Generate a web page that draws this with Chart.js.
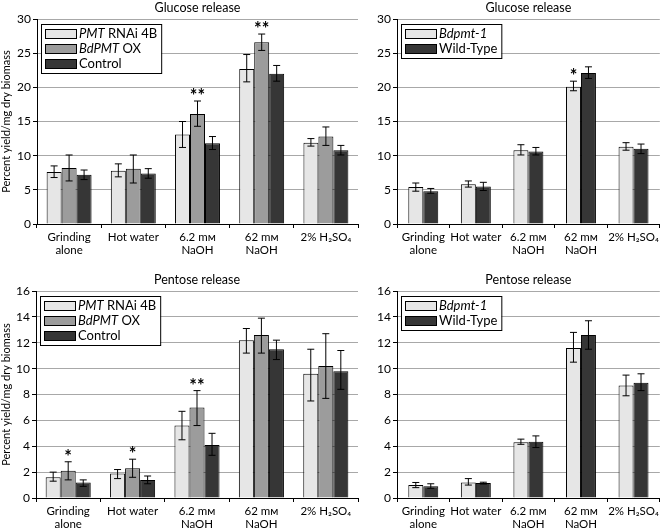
<!DOCTYPE html>
<html>
<head>
<meta charset="utf-8">
<script src="https://cdn.jsdelivr.net/npm/chart.js@4"></script>
<style>
body { margin: 0; background: #fff; }
canvas { position: absolute; }
</style>
</head>
<body>
<canvas id="glucoseA" width="362" height="265" style="left:0;top:0"></canvas>
<canvas id="glucoseB" width="299" height="265" style="left:362px;top:0"></canvas>
<canvas id="pentoseA" width="362" height="265" style="left:0;top:265px"></canvas>
<canvas id="pentoseB" width="299" height="265" style="left:362px;top:265px"></canvas>
<script>
// categorias comunes a los cuatro paneles
const categories = [['Grinding', 'alone'], 'Hot water', ['6.2 mᴍ', 'NaOH'], ['62 mᴍ', 'NaOH'], '2% H₂SO₄'];

// Glucosa - RNAi / OX / control
const glucosePmt = [7.6, 7.8, 13.1, 22.7, 11.9];
const glucosePmtLo = [6.8, 6.9, 11.2, 20.8, 11.4];
const glucosePmtHi = [8.5, 8.8, 15.0, 24.8, 12.5];
const glucoseOx = [8.2, 8.1, 16.1, 26.6, 12.8];
const glucoseOxLo = [6.3, 6.0, 14.3, 25.4, 11.5];
const glucoseOxHi = [10.1, 10.1, 18.0, 27.8, 14.2];
const glucoseCtl = [7.2, 7.4, 11.8, 22.0, 10.8];
const glucoseCtlLo = [6.5, 6.7, 10.9, 20.9, 10.1];
const glucoseCtlHi = [7.9, 8.1, 12.8, 23.2, 11.5];
const glucoseOxStars = ['', '', '**', '**', ''];

// Glucosa - mutante / silvestre
const glucoseMut = [5.4, 5.8, 10.8, 20.1, 11.3];
const glucoseMutLo = [4.8, 5.4, 10.1, 19.5, 10.8];
const glucoseMutHi = [6.0, 6.3, 11.6, 20.9, 11.9];
const glucoseWt = [4.8, 5.5, 10.6, 22.1, 11.0];
const glucoseWtLo = [4.5, 4.9, 10.1, 21.3, 10.3];
const glucoseWtHi = [5.2, 6.1, 11.2, 23.0, 11.7];
const glucoseMutStars = ['', '', '', '*', ''];

// Pentosa - RNAi / OX / control
const pentosePmt = [1.6, 1.9, 5.6, 12.2, 9.6];
const pentosePmtLo = [1.3, 1.5, 4.5, 11.2, 7.5];
const pentosePmtHi = [2.0, 2.2, 6.7, 13.1, 11.5];
const pentoseOx = [2.1, 2.3, 7.0, 12.6, 10.2];
const pentoseOxLo = [1.4, 1.6, 5.6, 11.2, 7.7];
const pentoseOxHi = [2.8, 3.0, 8.3, 13.9, 12.7];
const pentoseCtl = [1.2, 1.4, 4.1, 11.5, 9.8];
const pentoseCtlLo = [0.9, 1.1, 3.3, 10.7, 8.4];
const pentoseCtlHi = [1.4, 1.7, 5.0, 12.2, 11.4];
const pentoseOxStars = ['*', '*', '**', '', ''];

// Pentosa - mutante / silvestre
const pentoseMut = [1.0, 1.2, 4.3, 11.6, 8.7];
const pentoseMutLo = [0.8, 1.0, 4.15, 10.5, 7.9];
const pentoseMutHi = [1.2, 1.5, 4.55, 12.8, 9.5];
const pentoseWt = [0.9, 1.15, 4.35, 12.6, 8.9];
const pentoseWtLo = [0.75, 1.08, 3.9, 11.5, 8.3];
const pentoseWtHi = [1.1, 1.22, 4.8, 13.7, 9.6];

const FONT = 'Lato, "Open Sans", sans-serif';
const LIGHT = '#e6e6e6', MID = '#9c9c9c', DARK = '#363636';

// barras de error, asteriscos, titulo y leyenda con cursiva
const extras = {
    id: 'extras',
    afterDatasetsDraw(chart) {
        const ctx = chart.ctx;
        const y = chart.scales.y;
        ctx.save();
        chart.data.datasets.forEach((ds, i) => {
            const meta = chart.getDatasetMeta(i);
            meta.data.forEach((bar, j) => {
                const top = y.getPixelForValue(ds.hi[j]);
                const bot = y.getPixelForValue(ds.lo[j]);
                ctx.strokeStyle = '#000';
                ctx.lineWidth = 1;
                ctx.beginPath();
                ctx.moveTo(bar.x, top); ctx.lineTo(bar.x, bot);
                ctx.moveTo(bar.x - 3.5, top); ctx.lineTo(bar.x + 3.5, top);
                ctx.moveTo(bar.x - 3.5, bot); ctx.lineTo(bar.x + 3.5, bot);
                ctx.stroke();
                if (ds.stars && ds.stars[j]) {
                    ctx.fillStyle = '#000';
                    ctx.font = 'bold 18px ' + FONT;
                    ctx.textAlign = 'center';
                    ctx.textBaseline = 'alphabetic';
                    ctx.fillText(ds.stars[j], bar.x, top + 1);
                }
            });
        });
        ctx.restore();
    },
    afterDraw(chart, args, opts) {
        const ctx = chart.ctx;
        const a = chart.chartArea;
        ctx.save();
        // titulo
        ctx.fillStyle = '#000';
        ctx.font = '12.5px ' + FONT;
        ctx.textAlign = 'center';
        ctx.textBaseline = 'middle';
        ctx.fillText(opts.title, (a.left + a.right) / 2, opts.titleY);
        // leyenda
        const sets = chart.data.datasets;
        const LF = '13px ' + FONT;
        let tw = 0;
        sets.forEach(ds => {
            let w = 0;
            ds.parts.forEach(p => {
                ctx.font = (p[1] ? 'italic ' : '') + LF;
                w += ctx.measureText(p[0]).width;
            });
            tw = Math.max(tw, w);
        });
        const bx = a.left + 4, by = a.top + 5;
        const bw = 42 + tw, bh = 4 + sets.length * 15;
        ctx.fillStyle = '#fff';
        ctx.fillRect(bx, by, bw, bh);
        ctx.strokeStyle = '#000';
        ctx.lineWidth = 1;
        ctx.strokeRect(bx + 0.5, by + 0.5, bw, bh);
        sets.forEach((ds, i) => {
            const cy = by + 9.5 + i * 15;
            ctx.fillStyle = ds.backgroundColor;
            ctx.fillRect(bx + 4, cy - 4.5, 31, 9);
            ctx.strokeRect(bx + 4.5, cy - 4, 31, 9);
            let x = bx + 38;
            ctx.fillStyle = '#000';
            ctx.textAlign = 'left';
            ctx.textBaseline = 'middle';
            ds.parts.forEach(p => {
                ctx.font = (p[1] ? 'italic ' : '') + LF;
                ctx.fillText(p[0], x, cy + 0.5);
                x += ctx.measureText(p[0]).width;
            });
        });
        ctx.restore();
    }
};

function makeChart(id, o) {
    return new Chart(document.getElementById(id), {
        type: 'bar',
        data: { labels: categories, datasets: o.datasets },
        options: {
            responsive: false,
            animation: false,
            layout: { padding: { top: o.top, right: o.right, left: 0, bottom: 0 } },
            datasets: { bar: { categoryPercentage: o.cat, barPercentage: 1, borderColor: '#000', borderWidth: 1 } },
            plugins: {
                legend: { display: false },
                tooltip: { enabled: false },
                extras: { title: o.title, titleY: o.titleY }
            },
            scales: {
                x: {
                    afterFit(s) { s.height = o.xh; },
                    grid: { offset: true, drawOnChartArea: false, color: '#000', tickLength: 4 },
                    border: { color: '#000' },
                    ticks: { color: '#000', font: { family: FONT, size: 11.5 }, maxRotation: 0, autoSkip: false, padding: 2 }
                },
                y: {
                    min: 0, max: o.max,
                    afterFit(s) { s.width = o.axis; },
                    grid: { color: '#a8a8a8', tickColor: '#000', tickLength: 4 },
                    border: { color: '#000' },
                    ticks: { stepSize: o.step, color: '#000', font: { family: FONT, size: 12 }, padding: 2 },
                    title: { display: o.ytitle, text: 'Percent yield/mg dry biomass', color: '#000', font: { family: FONT, size: 11 }, padding: 0 }
                }
            }
        },
        plugins: [extras]
    });
}

function set(label, parts, data, lo, hi, color, stars) {
    return { label: label, parts: parts, data: data, lo: lo, hi: hi, backgroundColor: color, stars: stars };
}

makeChart('glucoseA', {
    title: 'Glucose release', titleY: 8, top: 19, right: 4, xh: 41, axis: 37, cat: 0.7, max: 30, step: 5, ytitle: true,
    datasets: [
        set('PMT RNAi 4B', [['PMT', true], [' RNAi 4B', false]], glucosePmt, glucosePmtLo, glucosePmtHi, LIGHT),
        set('BdPMT OX', [['BdPMT', true], [' OX', false]], glucoseOx, glucoseOxLo, glucoseOxHi, MID, glucoseOxStars),
        set('Control', [['Control', false]], glucoseCtl, glucoseCtlLo, glucoseCtlHi, DARK)
    ]
});
makeChart('glucoseB', {
    title: 'Glucose release', titleY: 8, top: 19, right: 1, xh: 41, axis: 35, cat: 0.57, max: 30, step: 5, ytitle: false,
    datasets: [
        set('Bdpmt-1', [['Bdpmt-1', true]], glucoseMut, glucoseMutLo, glucoseMutHi, LIGHT, glucoseMutStars),
        set('Wild-Type', [['Wild-Type', false]], glucoseWt, glucoseWtLo, glucoseWtHi, DARK)
    ]
});
makeChart('pentoseA', {
    title: 'Pentose release', titleY: 15, top: 26, right: 4, xh: 32, axis: 36, cat: 0.7, max: 16, step: 2, ytitle: true,
    datasets: [
        set('PMT RNAi 4B', [['PMT', true], [' RNAi 4B', false]], pentosePmt, pentosePmtLo, pentosePmtHi, LIGHT),
        set('BdPMT OX', [['BdPMT', true], [' OX', false]], pentoseOx, pentoseOxLo, pentoseOxHi, MID, pentoseOxStars),
        set('Control', [['Control', false]], pentoseCtl, pentoseCtlLo, pentoseCtlHi, DARK)
    ]
});
makeChart('pentoseB', {
    title: 'Pentose release', titleY: 15, top: 26, right: 1, xh: 32, axis: 35, cat: 0.57, max: 16, step: 2, ytitle: false,
    datasets: [
        set('Bdpmt-1', [['Bdpmt-1', true]], pentoseMut, pentoseMutLo, pentoseMutHi, LIGHT),
        set('Wild-Type', [['Wild-Type', false]], pentoseWt, pentoseWtLo, pentoseWtHi, DARK)
    ]
});
</script>
</body>
</html>
